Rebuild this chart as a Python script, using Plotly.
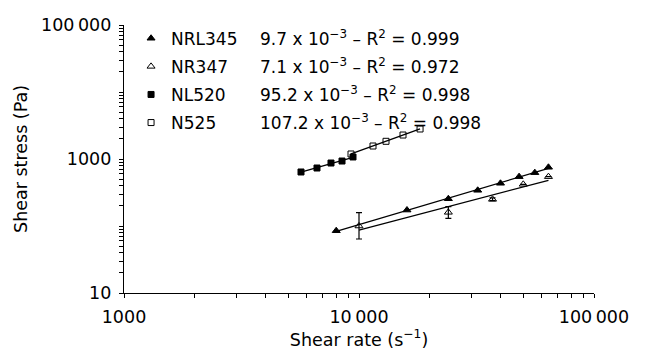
import numpy as np
import plotly.graph_objects as go

# ---- data ----
nrl345_x = [8000, 16000, 24000, 32000, 40000, 48000, 56000, 64000]
nrl345_y = [85, 173, 255, 341, 434, 545, 625, 752]

nr347_x = [10000, 24000, 37000, 50000, 64000]
nr347_y = [100, 160, 250, 419, 545]
nr347_err_plus = [58, 34, 12, 0, 0]
nr347_err_minus = [36, 30, 10, 0, 0]

nl520_x = [5665, 6626, 7600, 8468, 9430]
nl520_y = [640, 734, 871, 933, 1072]

n525_x = [9247, 11470, 13030, 15390, 18190]
n525_y = [1188, 1563, 1837, 2280, 2805]

series_names = ["NRL345", "NR347", "NL520", "N525"]
fit_labels = [
    "9.7 x 10<sup>\u22123</sup> \u2013 R<sup>2</sup> = 0.999",
    "7.1 x 10<sup>\u22123</sup> \u2013 R<sup>2</sup> = 0.972",
    "95.2 x 10<sup>\u22123</sup> \u2013 R<sup>2</sup> = 0.998",
    "107.2 x 10<sup>\u22123</sup> \u2013 R<sup>2</sup> = 0.998",
]

x_tickvals = [1000, 10000, 100000]
x_ticktext = ["1000", "10\u2009000", "100\u2009000"]
y_tickvals = [10, 1000, 100000]
y_ticktext = ["10", "1000", "100\u2009000"]

FONT = "DejaVu Sans"
FS = 17      # legend / formulas
FA = 17.5    # axes
fig = go.Figure()


def fit_line(xs, ys):
    lx, ly = np.log10(xs), np.log10(ys)
    b, a = np.polyfit(lx, ly, 1)
    xe = np.array([min(xs), max(xs)])
    return xe, 10 ** (a + b * np.log10(xe))


series = [
    (nrl345_x, nrl345_y, "triangle-up", 7, None),
    (nr347_x, nr347_y, "triangle-up-open", 7, (nr347_err_plus, nr347_err_minus)),
    (nl520_x, nl520_y, "square", 6, None),
    (n525_x, n525_y, "square-open", 6, None),
]

for xs, ys, sym, sz, err in series:
    xe, ye = fit_line(xs, ys)
    fig.add_trace(go.Scatter(x=xe, y=ye, mode="lines",
                             line=dict(color="black", width=1.3),
                             showlegend=False, hoverinfo="skip"))
for i, (xs, ys, sym, sz, err) in enumerate(series):
    kw = {}
    if err is not None:
        kw["error_y"] = dict(type="data", array=err[0], arrayminus=err[1],
                             color="black", thickness=1.2, width=3)
    fig.add_trace(go.Scatter(x=xs, y=ys, mode="markers", name=series_names[i],
                             legendgroup=series_names[i],
                             marker=dict(symbol=sym, size=sz, color="black",
                                         line=dict(color="black", width=1)),
                             **kw))

minor_x = [m * 10 ** k for k in range(3, 5) for m in range(2, 10)]
minor_y = [m * 10 ** k for k in range(1, 5) for m in range(1, 10) if not (m == 1 and k % 2 == 1)]

# legend rows (px from top) for formula annotations
row_px = [38, 66, 94, 122]
plot_top, plot_h = 25, 268
for r, txt in zip(row_px, fit_labels):
    fig.add_annotation(x=0.285, y=1 - (r - plot_top) / plot_h, xref="paper", yref="paper",
                       text=txt, showarrow=False, xanchor="left", yanchor="middle",
                       font=dict(family=FONT, size=FS, color="black"))

fig.update_layout(
    width=648, height=358,
    margin=dict(l=124, r=54, t=25, b=65),
    paper_bgcolor="white", plot_bgcolor="white",
    font=dict(family=FONT, size=FA, color="black"),
    showlegend=True,
    legend=dict(x=0.015, y=1.016, xanchor="left", yanchor="top",
                bgcolor="rgba(0,0,0,0)", font=dict(family=FONT, size=FS),
                tracegroupgap=3, itemwidth=30),
    xaxis=dict(type="log", range=[3, 5], tickvals=x_tickvals, ticktext=x_ticktext,
               ticks="outside", ticklen=4, tickcolor="black", showline=True,
               linecolor="black", linewidth=1.2, showgrid=False, zeroline=False,
               minor=dict(tickvals=minor_x, ticks="outside", ticklen=4, tickcolor="black",
                          showgrid=False),
               tickfont=dict(family=FONT, size=FA), ticklabelstandoff=4,
               title=dict(text="Shear rate (s<sup>\u22121</sup>)", font=dict(family=FONT, size=FA),
                          standoff=7)),
    yaxis=dict(type="log", range=[1, 5], tickvals=y_tickvals, ticktext=y_ticktext,
               ticks="outside", ticklen=4, tickcolor="black", showline=True,
               linecolor="black", linewidth=1.2, showgrid=False, zeroline=False,
               minor=dict(tickvals=minor_y, ticks="outside", ticklen=4, tickcolor="black",
                          showgrid=False),
               tickfont=dict(family=FONT, size=FA), ticklabelstandoff=4,
               title=dict(text="Shear stress (Pa)", font=dict(family=FONT, size=FA),
                          standoff=8)),
)

fig.write_html("out.html")
